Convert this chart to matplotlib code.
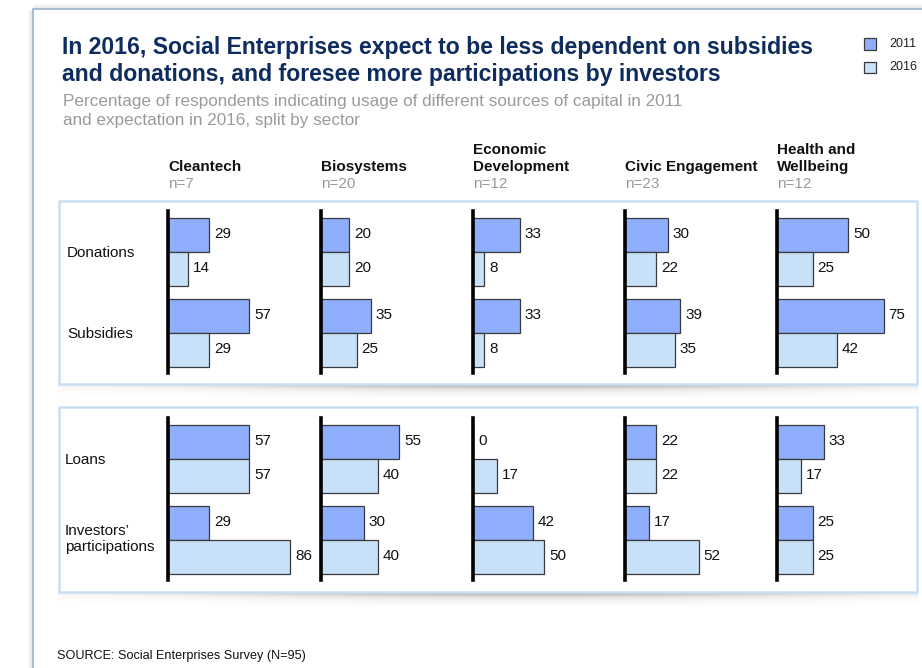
import matplotlib
matplotlib.use("Agg")
import matplotlib.pyplot as plt
from matplotlib.patches import Rectangle
import numpy as np

plt.rcParams['font.family'] = ['Liberation Sans', 'DejaVu Sans']

# ---- data ----
sectors = ["Cleantech", "Biosystems", "Economic\nDevelopment", "Civic Engagement", "Health and\nWellbeing"]
sample_sizes = ["n=7", "n=20", "n=12", "n=23", "n=12"]
top_categories = ["Donations", "Subsidies"]
bottom_categories = ["Loans", "Investors’\nparticipations"]
years = ["2011", "2016"]

donations_2011 = [29, 20, 33, 30, 50]
donations_2016 = [14, 20, 8, 22, 25]
subsidies_2011 = [57, 35, 33, 39, 75]
subsidies_2016 = [29, 25, 8, 35, 42]
loans_2011 = [57, 55, 0, 22, 33]
loans_2016 = [57, 40, 17, 22, 17]
investors_2011 = [29, 30, 42, 17, 25]
investors_2016 = [86, 40, 50, 52, 25]

title = ("In 2016, Social Enterprises expect to be less dependent on subsidies\n"
         "and donations, and foresee more participations by investors")
subtitle = ("Percentage of respondents indicating usage of different sources of capital in 2011\n"
            "and expectation in 2016, split by sector")
source = "SOURCE: Social Enterprises Survey (N=95)"

# ---- style ----
W, H = 922, 668
C2011 = "#8FAEFC"
C2016 = "#C8E0F8"
EDGE = "#3A3A3A"
NAVY = "#0E2D5E"
GRAY = "#9A9A9A"
PANEL_EDGE = "#C9DEF2"
FS = 11

fig = plt.figure(figsize=(W / 100, H / 100), dpi=100)
bg = fig.add_axes([0, 0, 1, 1])
bg.set_xlim(0, W)
bg.set_ylim(H, 0)
bg.axis("off")

# outer frame with soft shadow on the left and top
for i, a in enumerate([0.04, 0.07, 0.11, 0.16]):
    bg.plot([28 + i, 28 + i], [10, H], color="#808080", alpha=a, lw=1, solid_capstyle="butt")
    bg.plot([33, W], [4 + i, 4 + i], color="#808080", alpha=a * 0.8, lw=1, solid_capstyle="butt")
bg.plot([32.5, 32.5, W], [H, 8.5, 8.5], color="#A7BBCF", lw=1.4)

# title, subtitle, legend
bg.text(62, 36, title, fontsize=16.6, fontweight="bold", color=NAVY, va="top",
        ha="left", linespacing=1.2)
bg.text(63, 94, subtitle, fontsize=12.3, color=GRAY, va="top", ha="left", linespacing=1.3)
for k, (yr, col) in enumerate(zip(years, [C2011, C2016])):
    bg.add_patch(Rectangle((864, 38 + 23.5 * k), 11.5, 11.5, facecolor=col, edgecolor=EDGE, lw=0.9))
    bg.text(889, 44 + 23.5 * k, yr, fontsize=9, va="center", ha="left", color="#222222")

# column headers
col_x = [168, 321, 473, 625, 777]
for x, s, n in zip(col_x, sectors, sample_sizes):
    bg.text(x, 174, s, fontsize=FS, fontweight="bold", ha="left", va="bottom",
            color="#111111", linespacing=1.3)
    bg.text(x, 184.5, n, fontsize=FS, ha="left", va="center", color=GRAY)

# panels with shadow
panels = [(200, 383), (406, 591)]
for (y0, y1) in panels:
    grad = np.linspace(0, 1, 300)
    prof = np.clip(np.exp(-((grad - 0.55) / 0.38) ** 2), 0, 1)
    vert = np.exp(-np.linspace(0, 3.2, 14))
    img = np.outer(vert, prof)
    rgba = np.zeros((14, 300, 4))
    rgba[..., :3] = 0.42
    rgba[..., 3] = img * 0.75
    bg.imshow(rgba, extent=(58, 917, y1 + 14, y1 + 1), aspect="auto", zorder=1,
              interpolation="bilinear")
    bg.add_patch(Rectangle((58.5, y0 + 0.5), 858, y1 - y0, facecolor="white",
                           edgecolor=PANEL_EDGE, lw=1.8, zorder=2))
bg.set_xlim(0, W)
bg.set_ylim(H, 0)

# row labels
bg.text(67, 253, top_categories[0], fontsize=FS, va="center", ha="left", color="#111111")
bg.text(67, 334, top_categories[1], fontsize=FS, va="center", ha="left", color="#111111")
bg.text(65, 460, bottom_categories[0], fontsize=FS, va="center", ha="left", color="#111111")
bg.text(65, 539, bottom_categories[1], fontsize=FS, va="center", ha="left", color="#111111",
        linespacing=1.25)

bg.text(57, 656, source, fontsize=9.1, va="center", ha="left", color="#111111")

# bar axes
PX_PER_UNIT = 1.42
AX_W = 140
groups = [
    ((211, 373), 252, 80.5, [(donations_2011, donations_2016), (subsidies_2011, subsidies_2016)]),
    ((418, 580), 459, 81.0, [(loans_2011, loans_2016), (investors_2011, investors_2016)]),
]
bar_h = 34
for (ytop, ybot), c0, step, rows in groups:
    for j, x0 in enumerate(col_x):
        ax = fig.add_axes([x0 / W, 1 - ybot / H, AX_W / W, (ybot - ytop) / H])
        ax.set_xlim(0, AX_W / PX_PER_UNIT)
        ax.set_ylim(ybot - c0, ytop - c0)
        ax.patch.set_alpha(0)
        for s in ["top", "right", "bottom"]:
            ax.spines[s].set_visible(False)
        ax.spines["left"].set_linewidth(2.6)
        ax.spines["left"].set_color("black")
        ax.set_xticks([])
        ax.set_yticks([])
        for r, (v11, v16) in enumerate(rows):
            yc = r * step
            for v, col, off in [(v11[j], C2011, -bar_h / 2), (v16[j], C2016, bar_h / 2)]:
                ax.barh(yc + off, v, height=bar_h, color=col, edgecolor=EDGE, lw=0.9, zorder=2)
                ax.annotate(str(v), (v, yc + off), xytext=(5, 1), textcoords="offset pixels",
                            fontsize=FS, va="center", ha="left", color="#111111")
        ax.spines["left"].set_zorder(5)

fig.savefig("out.png", dpi=100)
